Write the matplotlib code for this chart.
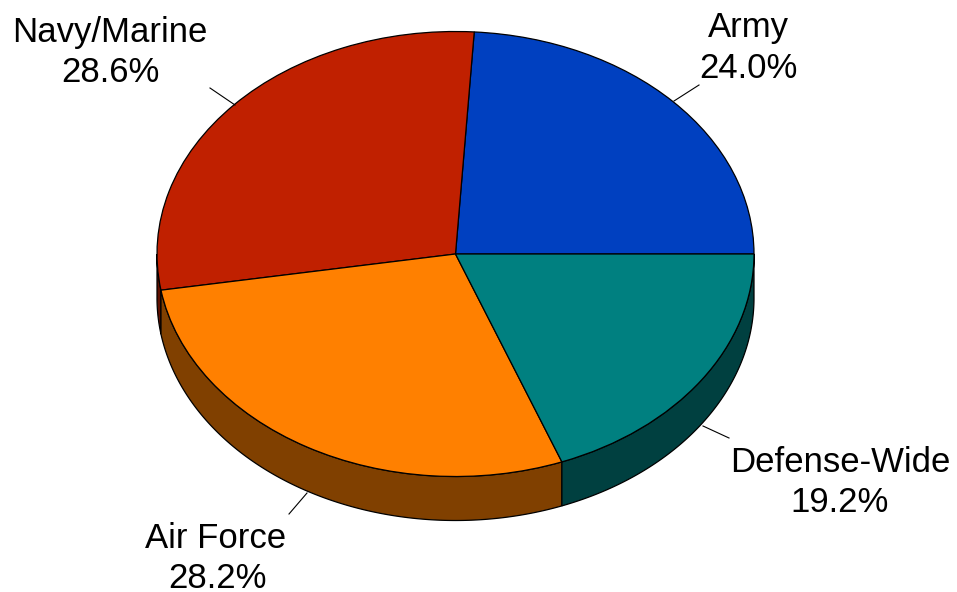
import numpy as np
import matplotlib
matplotlib.use("Agg")
import matplotlib.pyplot as plt
from matplotlib.patches import Polygon

# Data
categories = ["Army", "Navy/Marine", "Air Force", "Defense-Wide"]
values = [24.0, 28.6, 28.2, 19.2]
pct_labels = ["24.0%", "28.6%", "28.2%", "19.2%"]
top_colors = ["#0040C0", "#C02000", "#FF8000", "#008080"]
side_colors = ["#002070", "#601000", "#804000", "#004040"]

W, H = 957, 592
CX, CY, RX, RY = 455.5, 254.0, 298.5, 222.5
DEPTH = 44.0 / RY

def P(x, y):
    return (x - CX) / RX, (CY - y) / RY

fig = plt.figure(figsize=(W / 100, H / 100), dpi=100)
ax = fig.add_axes([0, 0, 1, 1])
ax.axis("off")

lw = 0.9
# side walls
fr = np.array(values) / np.sum(values)
bounds = np.concatenate([[0], np.cumsum(fr)]) * 360.0
for i in range(len(values)):
    a0 = max(bounds[i], 180.0)
    a1 = min(bounds[i + 1], 360.0)
    if a1 <= a0:
        continue
    t = np.radians(np.linspace(a0, a1, 200))
    top = np.column_stack([np.cos(t), np.sin(t)])
    bot = np.column_stack([np.cos(t), np.sin(t) - DEPTH])[::-1]
    poly = Polygon(np.vstack([top, bot]), closed=True, facecolor=side_colors[i],
                   edgecolor="black", linewidth=lw, zorder=0.5)
    ax.add_patch(poly)

ax.pie(values, colors=top_colors, startangle=0, counterclock=True, radius=1,
       center=(0, 0), wedgeprops=dict(edgecolor="black", linewidth=lw))
ax.set_aspect("auto")
ax.set_xlim(P(0, 0)[0], P(W, 0)[0])
ax.set_ylim(P(0, H)[1], P(0, 0)[1])

font = dict(family=["Liberation Sans", "DejaVu Sans"], fontsize=25, color="black",
            ha="center", va="baseline")
label_pos = {
    "Army": ((748, 37), (748, 78), ((674, 101), (699, 85))),
    "Navy/Marine": ((110, 42), (110, 82), ((235, 105), (210, 88))),
    "Air Force": ((216, 548), (217, 588), ((307, 493), (289, 514))),
    "Defense-Wide": ((840, 472), (840, 512), ((703, 426), (729, 438))),
}
for name, pct in zip(categories, pct_labels):
    (x1, y1), (x2, y2), (l0, l1) = label_pos[name]
    ax.text(*P(x1, y1), name, **font)
    ax.text(*P(x2, y2), pct, **font)
    p0, p1 = P(*l0), P(*l1)
    ax.plot([p0[0], p1[0]], [p0[1], p1[1]], color="black", linewidth=0.8, zorder=3)

fig.savefig("out.png", dpi=100)
